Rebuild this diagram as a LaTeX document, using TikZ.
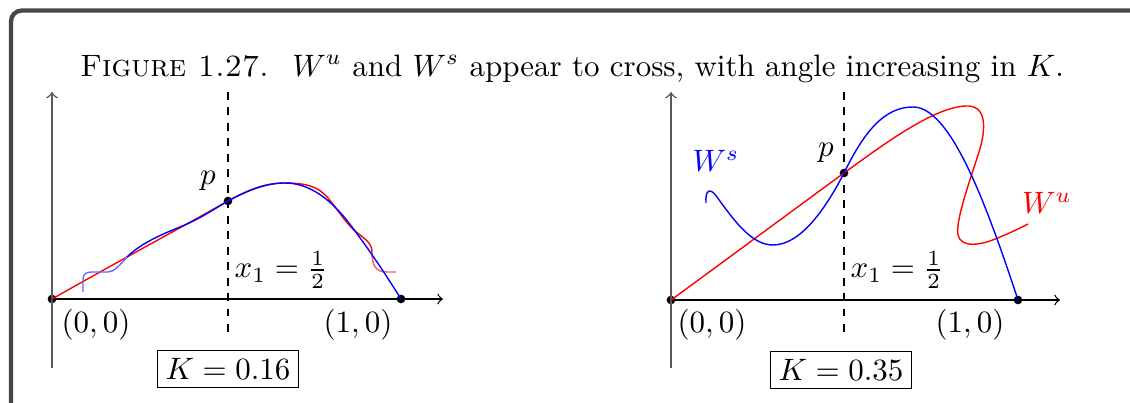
\documentclass[tikz,border=0pt]{standalone}
\usepackage{amsmath}
\begin{document}
\begin{tikzpicture}[x=0.323pt,y=-0.323pt,
  frame/.style={line width=1.4pt,draw=black!72,rounded corners=3.5pt},
  axisx/.style={->,line width=0.4pt,black},
  axisy/.style={->,line width=0.5pt,black!65},
  dashline/.style={dash pattern=on 2.5pt off 2.5pt,line width=0.4pt,black},
  dot/.style={circle,fill=black,inner sep=0pt,minimum size=2.8pt},
  kbox/.style={draw,line width=0.4pt,inner sep=2.6pt},
  lbl/.style={inner sep=0pt},
  cur/.style={line width=0.45pt},
]
\useasboundingbox (0,0) rectangle (1130,402);
\clip (0,0) rectangle (1130,402);
\draw[frame] (11,10.5) rectangle (1160,440);

\node[anchor=base,lbl] (cap) at (572,76)
  {\textsc{Figure 1.27.}\hspace{0.75em}$W^u$ and $W^s$ appear to cross, with angle increasing in $K$.};

% ---------- left plot ----------
\coordinate (ly0) at (52,368);
\coordinate (ly1) at (52,92);
\coordinate (lx1) at (443,299);
\coordinate (ld0) at (228,92);
\coordinate (ld1) at (228,335);
\node[dot] (o1) at (52,299) {};
\node[dot] (e1) at (401,299) {};
\node[dot] (p1) at (228,201) {};
\draw[axisy] (ly0) -- (ly1);
\draw[axisx] (o1.center) -- (lx1);
\draw[dashline] (ld0) -- (ld1);

% red (unstable) curve, left
\draw[cur,red] (o1.center) .. controls (110,266) and (180,228) .. (p1.center)
  .. controls (250,189) and (265,183) .. (285,183)
  .. controls (305,183) and (318,186) .. (328,198)
  .. controls (338,210) and (345,222) .. (355,231)
  .. controls (365,239) and (372,243) .. (372,252);
\draw[cur,red!65] (372,252) .. controls (372,266) and (376,272) .. (387,272) -- (396,272);
% blue (stable) curve, left
\draw[cur,blue!60] (83,292) -- (83,280) .. controls (83,274) and (86,272) .. (92,272) -- (108,272)
  .. controls (114,272) and (120,265) .. (127,257);
\draw[cur,blue] (127,257) .. controls (140,244) and (160,235) .. (180,227)
  .. controls (200,219) and (214,209) .. (p1.center)
  .. controls (250,189) and (268,183) .. (285,183)
  .. controls (310,183) and (330,200) .. (345,218)
  .. controls (365,243) and (388,278) .. (e1.center);

\node[lbl] (pl1) at (208,181) {$p$};
\node[lbl] (xl1) at (281,270) {$x_1=\frac{1}{2}$};
\node[lbl] (ol1) at (96,325) {$(0,0)$};
\node[lbl] (el1) at (358,325) {$(1,0)$};
\node[kbox] (k1) at (228,369) {$K=0.16$};

% ---------- right plot ----------
\coordinate (ry0) at (671,368);
\coordinate (ry1) at (671,92);
\coordinate (rx1) at (1060,300);
\coordinate (rd0) at (844,92);
\coordinate (rd1) at (844,335);
\node[dot] (o2) at (671,300) {};
\node[dot] (e2) at (1018,300) {};
\node[dot] (p2) at (844,173) {};
\draw[axisy] (ry0) -- (ry1);
\draw[axisx] (o2.center) -- (rx1);
\draw[dashline] (rd0) -- (rd1);

\draw[cur,red] (o2.center) .. controls (730,257) and (800,205) .. (p2.center)
  .. controls (888,141) and (935,107) .. (966,106)
  .. controls (985,105) and (988,125) .. (978,155)
  .. controls (970,180) and (955,222) .. (958,235)
  .. controls (961,248) and (980,246) .. (1000,237)
  .. controls (1010,233) and (1020,228) .. (1028,224);
\draw[cur,blue] (706,203) .. controls (705,190) and (710,187) .. (717,197)
  .. controls (735,222) and (752,245) .. (773,245)
  .. controls (800,245) and (825,210) .. (p2.center)
  .. controls (865,130) and (885,107) .. (913,107)
  .. controls (950,107) and (985,200) .. (e2.center);

\node[lbl] (pl2) at (826,153) {$p$};
\node[lbl] (xl2) at (897,270) {$x_1=\frac{1}{2}$};
\node[lbl] (ol2) at (712,325) {$(0,0)$};
\node[lbl] (el2) at (970,325) {$(1,0)$};
\node[kbox] (k2) at (841,370) {$K=0.35$};
\node[lbl,blue] (ws) at (716,161) {$W^s$};
\node[lbl,red] (wu) at (1047,203) {$W^u$};
\end{tikzpicture}
\end{document}
